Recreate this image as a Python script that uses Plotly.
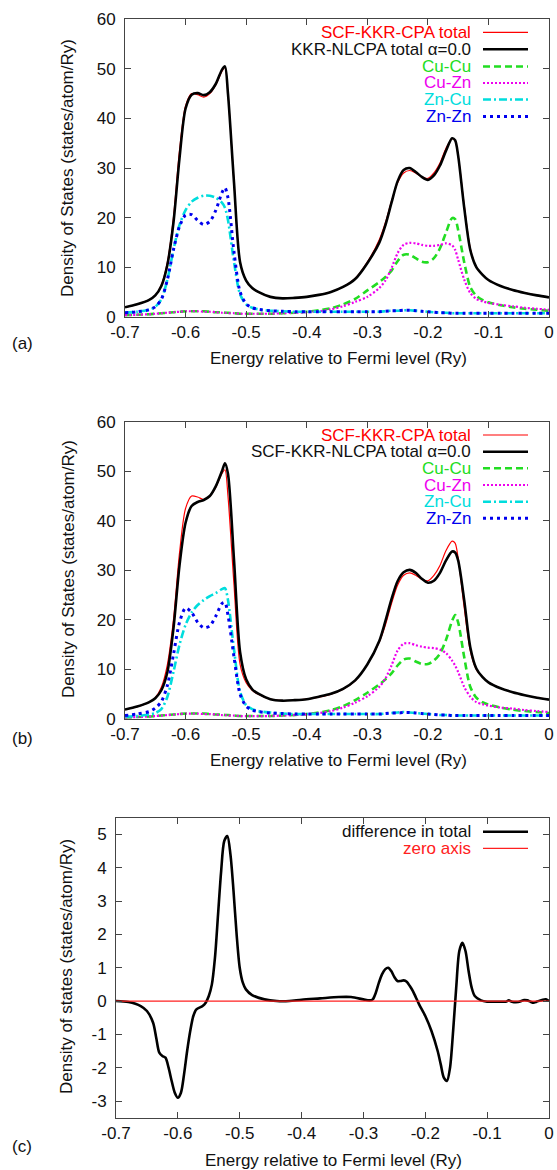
import plotly.graph_objects as go

W, H = 557, 1170

# ---------------- data ----------------
ENERGY = [-0.70, -0.68, -0.66, -0.65, -0.64, -0.63, -0.62, -0.61, -0.60, -0.59,
          -0.58, -0.57, -0.56, -0.55, -0.54, -0.535, -0.53, -0.52, -0.51, -0.50,
          -0.49, -0.48, -0.46, -0.44, -0.42, -0.40, -0.38, -0.36, -0.34, -0.32,
          -0.30, -0.28, -0.27, -0.26, -0.25, -0.24, -0.23, -0.22, -0.21, -0.20,
          -0.19, -0.18, -0.17, -0.16, -0.155, -0.15, -0.14, -0.13, -0.12, -0.11,
          -0.10, -0.08, -0.06, -0.04, -0.02, 0.00]

CPA_TOTAL = [1.9, 2.5, 3.4, 4.3, 6.4, 11.0, 20.0, 33.5, 42.5, 45.0,
             44.8, 44.3, 45.0, 46.8, 49.5, 50.3, 45.0, 27.0, 11.0, 7.3,
             5.8, 5.0, 4.0, 3.7, 3.8, 4.0, 4.4, 5.0, 6.0, 7.7,
             11.0, 15.6, 19.0, 23.3, 27.0, 29.0, 29.5, 29.0, 28.2, 27.9,
             29.0, 31.0, 34.0, 35.9, 35.5, 32.5, 22.5, 13.8, 10.0, 8.5,
             7.4, 6.2, 5.4, 4.8, 4.3, 3.9]

NLCPA_A_TOTAL = [1.9, 2.5, 3.4, 4.3, 6.2, 10.5, 19.0, 32.0, 42.0, 44.8,
                 45.1, 44.7, 45.3, 47.0, 49.8, 50.5, 45.0, 27.0, 11.0, 7.3,
                 5.8, 5.0, 4.0, 3.7, 3.8, 4.0, 4.4, 5.0, 6.0, 7.6,
                 10.8, 15.0, 18.5, 23.0, 27.3, 29.6, 30.0, 29.2, 28.2, 27.6,
                 28.5, 30.5, 33.5, 36.0, 35.6, 32.5, 22.0, 13.5, 10.0, 8.5,
                 7.4, 6.2, 5.4, 4.8, 4.3, 3.9]

CUCU_A = [0.3, 0.4, 0.5, 0.6, 0.7, 0.8, 0.9, 1.0, 1.1, 1.1,
          1.1, 1.1, 1.0, 0.9, 0.9, 0.8, 0.8, 0.7, 0.6, 0.6,
          0.6, 0.6, 0.6, 0.7, 0.8, 1.0, 1.3, 1.7, 2.5, 3.6,
          5.3, 7.0, 8.0, 9.3, 11.2, 12.5, 12.5, 11.8, 11.1, 11.0,
          11.8, 13.8, 17.0, 19.9, 19.7, 17.5, 11.0, 6.0, 4.2, 3.4,
          2.9, 2.3, 1.9, 1.6, 1.4, 1.2]

CUZN_A = [0.3, 0.4, 0.5, 0.6, 0.7, 0.8, 0.9, 1.0, 1.1, 1.1,
          1.1, 1.0, 1.0, 0.9, 0.8, 0.8, 0.7, 0.7, 0.6, 0.6,
          0.6, 0.6, 0.6, 0.7, 0.8, 0.9, 1.1, 1.5, 2.1, 3.0,
          4.0, 5.8, 7.3, 9.8, 12.8, 14.5, 14.9, 14.8, 14.5, 14.3,
          14.3, 14.5, 14.8, 14.4, 13.5, 11.5, 7.5, 4.8, 3.6, 3.1,
          2.8, 2.4, 2.1, 1.8, 1.6, 1.4]

ZNCU_A = [0.8, 1.0, 1.4, 2.0, 3.5, 7.5, 13.5, 18.5, 21.5, 23.2,
          24.0, 24.4, 24.4, 24.0, 23.0, 22.0, 19.5, 11.0, 4.5, 2.5,
          1.8, 1.5, 1.2, 1.1, 1.0, 1.0, 1.0, 1.0, 1.0, 1.0,
          1.0, 1.0, 1.1, 1.2, 1.2, 1.3, 1.3, 1.2, 1.1, 1.0,
          0.9, 0.8, 0.8, 0.7, 0.7, 0.7, 0.7, 0.7, 0.7, 0.7,
          0.7, 0.7, 0.7, 0.7, 0.7, 0.7]

ZNZN_A = [0.8, 1.0, 1.4, 2.0, 3.5, 7.5, 13.5, 18.2, 20.5, 20.6,
          19.4, 18.6, 19.2, 21.5, 25.0, 26.0, 24.0, 13.0, 5.0, 2.6,
          1.8, 1.5, 1.2, 1.1, 1.0, 1.0, 1.0, 1.0, 1.0, 1.0,
          1.0, 1.0, 1.1, 1.2, 1.2, 1.3, 1.3, 1.2, 1.1, 1.0,
          0.9, 0.8, 0.8, 0.7, 0.7, 0.7, 0.7, 0.7, 0.7, 0.7,
          0.7, 0.7, 0.7, 0.7, 0.7, 0.7]

NLCPA_B_TOTAL = [1.9, 2.5, 3.4, 4.2, 5.8, 9.5, 18.3, 31.0, 39.6, 43.0,
                 43.8, 44.2, 45.0, 47.0, 50.0, 51.6, 49.5, 32.0, 13.5, 8.0,
                 6.0, 5.1, 4.0, 3.7, 3.8, 4.0, 4.5, 5.1, 6.1, 7.8,
                 11.0, 15.8, 19.8, 24.2, 27.8, 29.6, 30.1, 29.5, 28.3, 27.5,
                 27.9, 29.5, 32.0, 33.8, 33.6, 32.0, 24.0, 14.5, 10.2, 8.5,
                 7.4, 6.2, 5.4, 4.8, 4.3, 3.9]

CUCU_B = [0.3, 0.4, 0.5, 0.6, 0.7, 0.8, 0.9, 1.0, 1.1, 1.1,
          1.1, 1.1, 1.0, 0.9, 0.9, 0.8, 0.8, 0.7, 0.6, 0.6,
          0.6, 0.6, 0.6, 0.7, 0.8, 1.0, 1.3, 1.8, 2.6, 3.8,
          5.3, 7.0, 8.0, 9.2, 10.8, 12.0, 12.2, 11.6, 11.1, 11.1,
          11.8, 13.2, 16.0, 19.8, 21.0, 19.5, 12.5, 6.5, 4.3, 3.4,
          2.9, 2.3, 1.9, 1.6, 1.4, 1.2]

CUZN_B = [0.3, 0.4, 0.5, 0.6, 0.7, 0.8, 0.9, 1.0, 1.1, 1.1,
          1.1, 1.0, 1.0, 0.9, 0.8, 0.8, 0.7, 0.7, 0.6, 0.6,
          0.6, 0.6, 0.6, 0.7, 0.8, 0.9, 1.2, 1.6, 2.3, 3.3,
          4.6, 6.5, 8.2, 10.8, 13.8, 15.2, 15.3, 14.9, 14.6, 14.4,
          14.3, 14.0, 13.3, 11.8, 10.8, 9.5, 6.5, 4.5, 3.4, 3.0,
          2.7, 2.3, 2.1, 1.8, 1.6, 1.4]

ZNCU_B = [0.5, 0.6, 0.9, 1.2, 2.0, 4.5, 9.5, 15.0, 19.0, 21.5,
          23.0, 24.0, 24.8, 25.4, 26.2, 26.4, 24.0, 14.0, 5.5, 2.8,
          2.0, 1.6, 1.3, 1.1, 1.0, 1.0, 1.0, 1.0, 1.0, 1.0,
          1.0, 1.0, 1.1, 1.2, 1.3, 1.4, 1.3, 1.2, 1.1, 1.0,
          0.9, 0.8, 0.8, 0.7, 0.7, 0.7, 0.7, 0.7, 0.7, 0.7,
          0.7, 0.7, 0.7, 0.7, 0.7, 0.7]

ZNZN_B = [0.7, 1.0, 1.5, 2.2, 3.5, 6.8, 13.0, 19.5, 22.4, 21.5,
          19.5, 18.4, 18.8, 20.8, 23.3, 23.5, 21.0, 12.5, 5.0, 2.6,
          1.8, 1.5, 1.2, 1.1, 1.0, 1.0, 1.0, 1.0, 1.0, 1.0,
          1.0, 1.0, 1.1, 1.2, 1.2, 1.3, 1.3, 1.2, 1.1, 1.0,
          0.9, 0.8, 0.8, 0.7, 0.7, 0.7, 0.7, 0.7, 0.7, 0.7,
          0.7, 0.7, 0.7, 0.7, 0.7, 0.7]

DIFF_ENERGY = [-0.70, -0.68, -0.66, -0.65, -0.64, -0.635, -0.63, -0.625, -0.62, -0.615,
               -0.61, -0.605, -0.60, -0.595, -0.59, -0.585, -0.58, -0.575, -0.57, -0.56,
               -0.555, -0.55, -0.545, -0.54, -0.535, -0.53, -0.525, -0.52, -0.515, -0.51,
               -0.505, -0.50, -0.495, -0.49, -0.48, -0.46, -0.44, -0.42, -0.40, -0.37,
               -0.34, -0.32, -0.30, -0.29, -0.285, -0.28, -0.275, -0.27, -0.265, -0.26,
               -0.255, -0.25, -0.245, -0.24, -0.235, -0.23, -0.225, -0.22, -0.215, -0.21,
               -0.20, -0.19, -0.18, -0.175, -0.17, -0.165, -0.16, -0.155, -0.15, -0.145,
               -0.14, -0.135, -0.13, -0.125, -0.12, -0.11, -0.10, -0.08, -0.07, -0.065,
               -0.06, -0.05, -0.04, -0.035, -0.03, -0.025, -0.02, -0.01, -0.005, 0.00]

DIFF_TOTAL = [0.0, -0.03, -0.15, -0.3, -0.65, -1.1, -1.55, -1.65, -1.7, -2.0,
              -2.4, -2.75, -2.9, -2.75, -2.2, -1.5, -0.9, -0.45, -0.25, -0.15,
              -0.05, 0.15, 0.5, 1.3, 2.6, 3.9, 4.8, 4.95, 4.4, 3.3,
              2.0, 1.0, 0.55, 0.35, 0.18, 0.05, 0.0, 0.0, 0.04, 0.08,
              0.12, 0.12, 0.05, 0.02, 0.05, 0.25, 0.55, 0.8, 0.95, 1.0,
              0.9, 0.72, 0.6, 0.6, 0.62, 0.58, 0.45, 0.3, 0.1, -0.1,
              -0.45, -0.9, -1.5, -1.9, -2.3, -2.4, -2.0, -0.9, 0.4, 1.5,
              1.75, 1.5, 0.9, 0.4, 0.15, 0.02, -0.02, -0.02, -0.02, 0.02,
              -0.02, -0.03, 0.03, 0.02, -0.02, -0.05, -0.02, 0.04, 0.05, 0.0]

ZERO_X = [-0.70, 0.00]
ZERO_Y = [0.0, 0.0]

X_TICKS = [-0.7, -0.6, -0.5, -0.4, -0.3, -0.2, -0.1, 0.0]
X_TICK_TEXT = ["-0.7", "-0.6", "-0.5", "-0.4", "-0.3", "-0.2", "-0.1", "0"]
Y_TICKS_AB = [0, 10, 20, 30, 40, 50, 60]
Y_TICKS_C = [-3, -2, -1, 0, 1, 2, 3, 4, 5]

LABELS_A = ["SCF-KKR-CPA total", "KKR-NLCPA total \u03b1=0.0", "Cu-Cu", "Cu-Zn", "Zn-Cu", "Zn-Zn"]
LABELS_B = ["SCF-KKR-CPA total", "SCF-KKR-NLCPA total \u03b1=0.0", "Cu-Cu", "Cu-Zn", "Zn-Cu", "Zn-Zn"]
LABELS_C = ["difference in total", "zero axis"]

for arr in [CPA_TOTAL, NLCPA_A_TOTAL, CUCU_A, CUZN_A, ZNCU_A, ZNZN_A,
            NLCPA_B_TOTAL, CUCU_B, CUZN_B, ZNCU_B, ZNZN_B]:
    assert len(arr) == len(ENERGY)
assert len(DIFF_TOTAL) == len(DIFF_ENERGY)

# ---------------- styles ----------------
FONT = "Liberation Sans, Arial, Helvetica, sans-serif"
FS = 17
STYLES = [
    dict(color="#ff0000", width=1.2, dash="solid"),
    dict(color="#000000", width=2.6, dash="solid"),
    dict(color="#22dd22", width=2.6, dash="7px,4px"),
    dict(color="#ee00ee", width=2.2, dash="2px,2px"),
    dict(color="#00dddd", width=2.6, dash="8px,3px,2px,3px"),
    dict(color="#0000ee", width=3.0, dash="3px,4px"),
]
STYLES_C = [
    dict(color="#000000", width=2.6, dash="solid"),
    dict(color="#ff2020", width=1.2, dash="solid"),
]


def px(x):
    return x / W


def py(y):
    return 1 - y / H


fig = go.Figure()

panel_a = [CPA_TOTAL, NLCPA_A_TOTAL, CUCU_A, CUZN_A, ZNCU_A, ZNZN_A]
panel_b = [CPA_TOTAL, NLCPA_B_TOTAL, CUCU_B, CUZN_B, ZNCU_B, ZNZN_B]

for series, labels, xa, ya in [(panel_a, LABELS_A, "x", "y"), (panel_b, LABELS_B, "x2", "y2")]:
    for vals, lab, st in zip(series, labels, STYLES):
        fig.add_trace(go.Scatter(x=ENERGY, y=vals, name=lab, mode="lines",
                                 line=dict(color=st["color"], width=st["width"], dash=st["dash"],
                                           shape="spline", smoothing=0.8),
                                 xaxis=xa, yaxis=ya, showlegend=False))

fig.add_trace(go.Scatter(x=DIFF_ENERGY, y=DIFF_TOTAL, name=LABELS_C[0], mode="lines",
                         line=dict(color=STYLES_C[0]["color"], width=STYLES_C[0]["width"],
                                   shape="spline", smoothing=0.8),
                         xaxis="x3", yaxis="y3", showlegend=False))
fig.add_trace(go.Scatter(x=ZERO_X, y=ZERO_Y, name=LABELS_C[1], mode="lines",
                         line=dict(color=STYLES_C[1]["color"], width=STYLES_C[1]["width"]),
                         xaxis="x3", yaxis="y3", showlegend=False))

# ---------------- axes ----------------
AX_COMMON = dict(showline=True, linecolor="#444444", linewidth=1, mirror="ticks",
                 ticks="inside", ticklen=6, tickcolor="#444444", tickwidth=1,
                 showgrid=False, zeroline=False, automargin=False,
                 tickfont=dict(family=FONT, size=FS, color="#111111"))

LEFT_AB, RIGHT = 125, 549
LEFT_C = 116
dom = {
    "a": dict(x=[px(LEFT_AB), px(RIGHT)], y=[py(316.7), py(19.3)]),
    "b": dict(x=[px(LEFT_AB), px(RIGHT)], y=[py(719), py(421.7)]),
    "c": dict(x=[px(LEFT_C), px(RIGHT)], y=[py(1117.7), py(817.7)]),
}

fig.update_layout(
    xaxis=dict(domain=dom["a"]["x"], anchor="y", range=[-0.7, 0], tickvals=X_TICKS,
               ticktext=X_TICK_TEXT, **AX_COMMON),
    yaxis=dict(domain=dom["a"]["y"], anchor="x", range=[0, 60], tickvals=Y_TICKS_AB,
               ticklabelstandoff=5, **AX_COMMON),
    xaxis2=dict(domain=dom["b"]["x"], anchor="y2", range=[-0.7, 0], tickvals=X_TICKS,
                ticktext=X_TICK_TEXT, **AX_COMMON),
    yaxis2=dict(domain=dom["b"]["y"], anchor="x2", range=[0, 60], tickvals=Y_TICKS_AB,
                ticklabelstandoff=5, **AX_COMMON),
    xaxis3=dict(domain=dom["c"]["x"], anchor="y3", range=[-0.7, 0], tickvals=X_TICKS,
                ticktext=X_TICK_TEXT, **AX_COMMON),
    yaxis3=dict(domain=dom["c"]["y"], anchor="x3", range=[-3.5, 5.5], tickvals=Y_TICKS_C,
                ticktext=[str(v) for v in Y_TICKS_C], ticklabelstandoff=5, **AX_COMMON),
)

# ---------------- text & legends ----------------
annotations = []
shapes = []


def text(x, y, s, size=FS, color="#111111", xanchor="center", angle=0):
    annotations.append(dict(x=px(x), y=py(y), xref="paper", yref="paper", text=s,
                            showarrow=False, xanchor=xanchor, yanchor="middle",
                            textangle=angle, borderpad=0,
                            font=dict(family=FONT, size=size, color=color)))


# axis titles
text(338, 358, "Energy relative to Fermi level (Ry)")
text(338, 760, "Energy relative to Fermi level (Ry)")
text(333, 1160, "Energy relative to Fermi level (Ry)")
text(68, 168, "Density of States (states/atom/Ry)", angle=-90)
text(68, 569, "Density of States (states/atom/Ry)", angle=-90)
text(67, 967, "Density of states (states/atom/Ry)", angle=-90)
# panel labels
text(22, 343, "(a)")
text(22, 738, "(b)")
text(22, 1146, "(c)")


def legend(rows_y, labels, styles):
    for yy, lab, st in zip(rows_y, labels, styles):
        text(472, yy, lab, color=st["color"] if st["color"] != "#000000" else "#111111",
             xanchor="right")
        shapes.append(dict(type="line", xref="paper", yref="paper",
                           x0=px(483), x1=px(528), y0=py(yy), y1=py(yy),
                           line=dict(color=st["color"], width=st["width"], dash=st["dash"])))


legend([32.3, 49.3, 66.5, 83.0, 99.5, 116.5], LABELS_A, STYLES)
legend([435, 451.7, 468.3, 485, 501.7, 518.3], LABELS_B, STYLES)
legend([831.7, 848.3], LABELS_C, STYLES_C)

fig.update_layout(
    width=W, height=H, margin=dict(l=0, r=0, t=0, b=0),
    paper_bgcolor="white", plot_bgcolor="white",
    annotations=annotations, shapes=shapes, showlegend=False,
    font=dict(family=FONT, size=FS, color="#111111"),
)

fig.write_html("out.html", config={"displayModeBar": False, "staticPlot": True})

# remove the browser's default page margin so the figure sits at (0, 0)
with open("out.html", "r", encoding="utf-8") as f:
    html = f.read()
html = html.replace("<head>", "<head><style>html,body{margin:0;padding:0;overflow:hidden;}</style>", 1)
with open("out.html", "w", encoding="utf-8") as f:
    f.write(html)
